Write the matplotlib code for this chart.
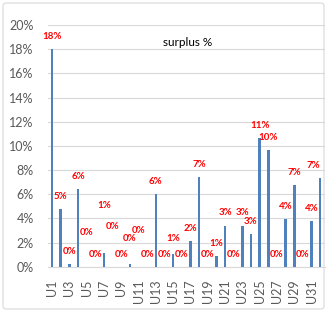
import matplotlib.pyplot as plt
from matplotlib.patches import FancyBboxPatch
import numpy as np

categories = [f"U{i}" for i in range(1, 33)]
surplus = [18.0, 4.75, 0.2, 6.4, 0.0, 0.0, 1.15, 0.0, 0.0, 0.2, 0.0, 0.0, 6.0, 0.0, 1.05, 0.0,
           2.1, 7.4, 0.0, 0.9, 3.4, 0.0, 3.4, 2.7, 10.65, 9.66, 0.0, 3.95, 6.76, 0.0, 3.78, 7.35]
labels = ["18%", "5%", "0%", "6%", "0%", "0%", "1%", "0%", "0%", "0%", "0%", "0%", "6%", "0%", "1%", "0%",
          "2%", "7%", "0%", "1%", "3%", "0%", "3%", "3%", "11%", "10%", "0%", "4%", "7%", "0%", "4%", "7%"]

# labels that Excel pushed around to avoid overlaps (index -> label centre in %)
label_moved = {4: 2.8, 6: 5.1, 7: 3.3, 9: 2.3, 10: 3.0, 14: 2.3}

plt.rcParams['font.family'] = ['Lato', 'DejaVu Sans']

fig = plt.figure(figsize=(3.27, 3.11), dpi=100)
ax = fig.add_axes([47.7 / 327, 1 - 266.7 / 311, (324.5 - 47.7) / 327, (266.7 - 25) / 311])

x = np.arange(len(categories))
ax.bar(x, surplus, width=0.3, color='#4F81BD', zorder=3)

for i, (v, lab) in enumerate(zip(surplus, labels)):
    y = label_moved.get(i, v + 1.05)
    xi = i - 0.8 if i == len(categories) - 1 else i
    ax.text(xi, y, lab, color='#FF0000', fontsize=7, fontweight='bold',
            ha='center', va='center', zorder=4)

ax.set_xlim(-0.5, len(categories) - 0.5)
ax.set_ylim(0, 20)
ax.set_yticks(np.arange(0, 21, 2))
ax.set_yticklabels([f"{t}%" for t in range(0, 21, 2)])
ax.set_xticks(x[::2])
ax.set_xticklabels(categories[::2], rotation=90)
ax.tick_params(axis='both', colors='#595959', labelsize=9, length=0)
ax.tick_params(axis='y', pad=10)
ax.tick_params(axis='x', pad=9)
ax.grid(axis='y', color='#D9D9D9', linewidth=0.8, zorder=0)
for s in ['top', 'right', 'left']:
    ax.spines[s].set_visible(False)
ax.spines['bottom'].set_color('#D9D9D9')

fig.text(188 / 327, 1 - 43 / 311, "surplus %", fontsize=8.5, ha='center', va='center', color='#000000')

border = FancyBboxPatch((3 / 327, 2 / 311), 321 / 327, 306 / 311, boxstyle="round,pad=0,rounding_size=0.01",
                        transform=fig.transFigure, fill=False, edgecolor='#D9D9D9', linewidth=0.8)
fig.patches.append(border)

fig.savefig("out.png", dpi=100)
